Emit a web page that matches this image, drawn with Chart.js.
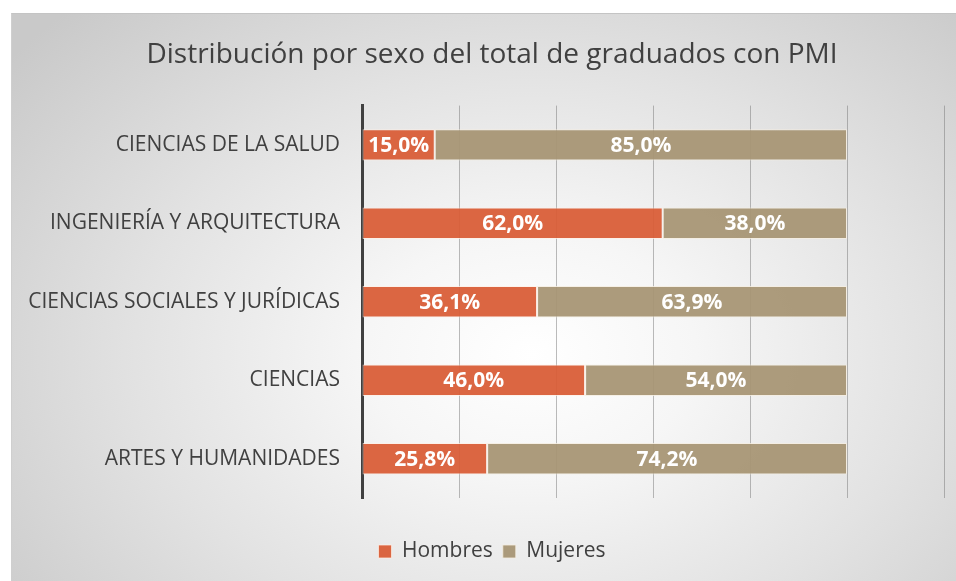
<!DOCTYPE html>
<html><head><meta charset="utf-8">
<script src="https://cdn.jsdelivr.net/npm/chart.js@4/dist/chart.umd.min.js"></script>
<style>
html,body{margin:0;padding:0;background:#fff;width:956px;height:581px;overflow:hidden;}
#box{position:absolute;left:11px;top:13px;width:945px;height:568px;
 background:radial-gradient(ellipse 70% 85% at 55% 60%, #ffffff 0%, #f6f6f6 25%, #e2e2e2 60%, #c9c9c9 100%);
 border-top:1px solid #c4c4c4;border-left:1px solid #cfcfcf;box-sizing:border-box;}
canvas{display:block}
</style></head><body>
<div id="box"><canvas id="c" width="944" height="567"></canvas></div>
<script>
const categories = ["CIENCIAS DE LA SALUD", "INGENIERÍA Y ARQUITECTURA", "CIENCIAS SOCIALES Y JURÍDICAS", "CIENCIAS", "ARTES Y HUMANIDADES"];
const hombres = [15.0, 62.0, 36.1, 46.0, 25.8];
const mujeres = [85.0, 38.0, 63.9, 54.0, 74.2];
const seriesNames = ["Hombres", "Mujeres"];
const xMin = 0, xMax = 120, xStep = 20;

const FONT = "'Open Sans', 'Noto Sans', sans-serif";

const labelPlugin = {
  id: 'segLabels',
  afterDatasetsDraw(chart) {
    const ctx = chart.ctx;
    ctx.save();
    ctx.fillStyle = '#ffffff';
    ctx.font = "bold 21px " + FONT;
    ctx.textAlign = 'center';
    ctx.textBaseline = 'middle';
    chart.data.datasets.forEach((ds, di) => {
      const meta = chart.getDatasetMeta(di);
      meta.data.forEach((el, i) => {
        const v = ds.data[i];
        const x = (el.x + el.base) / 2;
        ctx.fillText(v.toFixed(1).replace('.', ',') + '%', x, el.y + 1);
      });
    });
    ctx.restore();
  }
};

// shift the centring band of title and legend slightly to the right
const shiftPlugin = {
  id: 'shiftBlocks',
  afterLayout(chart) {
    if (chart.titleBlock) chart.titleBlock.left += 28;
    if (chart.legend) chart.legend.left += 28;
  }
};

new Chart(document.getElementById('c'), {
  type: 'bar',
  data: {
    labels: categories,
    datasets: [
      { label: seriesNames[0], data: hombres, backgroundColor: 'rgba(217,94,56,0.95)', borderColor: 'rgba(255,240,230,0.7)', borderWidth: 1, borderSkipped: false },
      { label: seriesNames[1], data: mujeres, backgroundColor: 'rgba(168,150,117,0.95)', borderColor: 'rgba(245,238,225,0.8)', borderWidth: 1, borderSkipped: false }
    ]
  },
  options: {
    indexAxis: 'y',
    responsive: false,
    animation: false,
    layout: { padding: { left: 0, right: 12, top: 0, bottom: 9 } },
    datasets: { bar: { barPercentage: 0.4, categoryPercentage: 1 } },
    scales: {
      x: {
        stacked: true, min: xMin, max: xMax,
        ticks: { display: false, stepSize: xStep },
        grid: { color: 'rgba(120,120,120,0.5)', lineWidth: 1, drawTicks: false },
        border: { display: false },
        afterFit(s) { s.height = 33; }
      },
      y: {
        stacked: true,
        ticks: { color: '#404040', font: { family: FONT, size: 21 }, padding: 22 },
        grid: { display: false, drawTicks: false },
        border: { display: true, color: '#404040', width: 3 },
        afterFit(s) { s.width = 350; }
      }
    },
    plugins: {
      title: { display: true, text: 'Distribución por sexo del total de graduados con PMI', color: '#404040',
        font: { family: FONT, size: 28, weight: 'normal' }, padding: { top: 24, bottom: 34 } },
      legend: { position: 'bottom', labels: { color: '#404040', font: { family: FONT, size: 21 }, boxWidth: 13, boxHeight: 13, padding: 10 } },
      tooltip: { enabled: false }
    }
  },
  plugins: [labelPlugin, shiftPlugin]
});
</script>
</body></html>
